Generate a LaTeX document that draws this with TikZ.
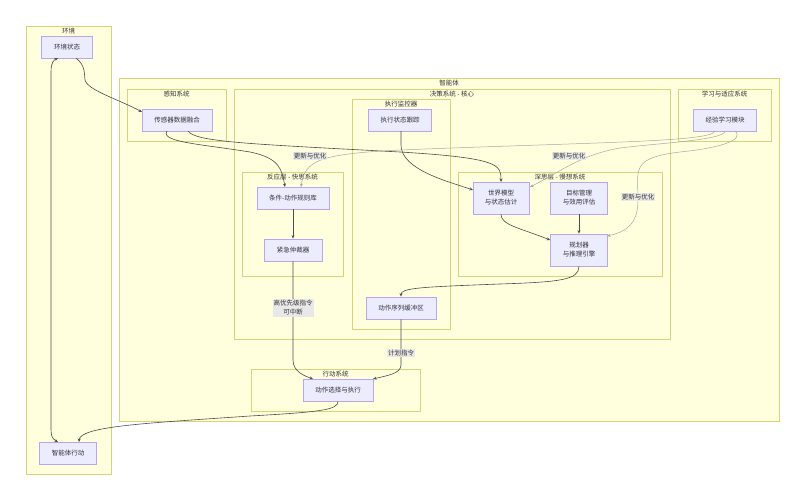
\documentclass[tikz,border=0pt]{standalone}
\usepackage{fontspec}
\setmainfont{Noto Sans CJK SC}
\usetikzlibrary{arrows.meta}
\definecolor{cfill}{HTML}{FFFFDE}
\definecolor{cline}{HTML}{D4D47A}
\definecolor{nfill}{HTML}{ECECFF}
\definecolor{nline}{HTML}{B9A6EE}
\definecolor{lblbg}{HTML}{E8E8E8}
\begin{document}
\begin{tikzpicture}[x=1pt,y=-1pt,
  font=\fontsize{6.5}{9}\selectfont,
  clus/.style={draw=cline,fill=cfill,line width=0.8pt},
  ctitle/.style={anchor=north,inner sep=1pt,text=black!80},
  nd/.style={draw=nline,fill=nfill,line width=0.8pt,minimum height=22pt,inner sep=2pt,align=center,text=black!80},
  e/.style={draw=black!70,line width=0.6pt,-{Stealth[length=3.5pt,width=3pt]}},
  el/.style={draw=black!35,line width=0.5pt,-{Stealth[length=3.5pt,width=3pt]}},
  lbl/.style={fill=lblbg,inner sep=1pt,align=center,text=black!80}]
\useasboundingbox (0,0) rectangle (805,500);
% clusters
\draw[clus] (26,26) rectangle (111,474); \node[ctitle] (t1) at (68.5,27) {环境};
\draw[clus] (119,78) rectangle (779,421); \node[ctitle] (t2) at (449,79) {智能体};
\draw[clus] (127,89) rectangle (226,141); \node[ctitle] (t3) at (176.5,90) {感知系统};
\draw[clus] (234,89) rectangle (670,339); \node[ctitle] (t4) at (452,90) {决策系统 - 核心};
\draw[clus] (352,99) rectangle (450,329); \node[ctitle] (t5) at (401,100) {执行监控器};
\draw[clus] (242,172) rectangle (343,276); \node[ctitle] (t6) at (292.5,173) {反应层 - 快思系统};
\draw[clus] (458,172) rectangle (662,276); \node[ctitle] (t7) at (560,173) {深思层 - 慢想系统};
\draw[clus] (678,89) rectangle (771,141); \node[ctitle] (t8) at (724.5,90) {学习与适应系统};
\draw[clus] (251,369) rectangle (420,411); \node[ctitle] (t9) at (335.5,370) {行动系统};
% nodes
\node[nd,minimum width=51pt] (env) at (67,47) {环境状态};
\node[nd,minimum width=70pt] (sen) at (177,120) {传感器数据融合};
\node[nd,minimum width=63pt] (trk) at (400,120) {执行状态跟踪};
\node[nd,minimum width=63pt] (lrn) at (725,120) {经验学习模块};
\node[nd,minimum width=72pt] (rule) at (293,198) {条件-动作规则库};
\node[nd,minimum width=58pt] (arb) at (293,250) {紧急仲裁器};
\node[nd,minimum width=56pt,minimum height=32pt] (wm) at (501,198) {世界模型\\与状态估计};
\node[nd,minimum width=57pt,minimum height=32pt] (goal) at (579,198) {目标管理\\与效用评估};
\node[nd,minimum width=57pt,minimum height=32pt] (plan) at (579,250) {规划器\\与推理引擎};
\node[nd,minimum width=70pt] (buf) at (401,308) {动作序列缓冲区};
\node[nd,minimum width=70pt] (sel) at (338,390) {动作选择与执行};
\node[nd,minimum width=57pt] (act) at (68,453) {智能体行动};
% edges
\coordinate (a1) at (76,58); \coordinate (a2) at (142,112);
\draw[e] (a1) .. controls (86,66) and (84,74) .. (85,80) .. controls (87,90) and (120,100) .. (a2);
\coordinate (b1) at (167,131); \coordinate (b2) at (285,187);
\draw[e] (b1) .. controls (160,142) and (200,144) .. (250,152) .. controls (280,158) and (282,170) .. (b2);
\coordinate (c1) at (188,131); \coordinate (c2) at (501,182);
\draw[e] (c1) .. controls (195,142) and (250,144) .. (400,152) .. controls (500,158) and (501,165) .. (c2);
\coordinate (d1) at (401,131); \coordinate (d2) at (473,190);
\draw[e] (d1) -- (401,145) .. controls (401,170) and (450,182) .. (d2);
\coordinate (f1) at (715,131); \coordinate (f2) at (301,187);
\draw[el] (f1) .. controls (712,142) and (600,142) .. (400,150) .. controls (320,154) and (305,160) .. (f2);
\coordinate (g1) at (725,131); \coordinate (g2) at (530,187);
\draw[el] (g1) .. controls (725,140) and (660,143) .. (620,148) .. controls (580,155) and (560,172) .. (g2);
\coordinate (h1) at (735,131); \coordinate (h2) at (607,236);
\draw[el] (h1) .. controls (745,140) and (720,148) .. (680,152) .. controls (630,158) and (638,170) .. (638,200) .. controls (638,225) and (625,232) .. (h2);
\node[lbl] (l1) at (310,156) {更新与优化};
\node[lbl] (l2) at (569,156) {更新与优化};
\node[lbl] (l3) at (638,197) {更新与优化};
\draw[e] (wm.south) .. controls (501,225) and (520,228) .. (plan.west|-0,240);
\draw[e] (goal) -- (plan);
\draw[e] (plan.south) .. controls (579,280) and (560,282) .. (500,284) .. controls (420,287) and (401,288) .. (buf.north);
\draw[e] (rule) -- (arb);
\coordinate (k2) at (313,379);
\draw[e] (arb.south) -- (293,360) .. controls (293,372) and (305,376) .. (k2);
\node[lbl] (l4) at (293,308) {高优先级指令\\可中断};
\coordinate (m2) at (373,379);
\draw[e] (buf.south) -- (401,365) .. controls (401,374) and (385,376) .. (m2);
\node[lbl] (l5) at (401,353) {计划指令};
\coordinate (n2) at (79,442);
\draw[e] (sel.south) .. controls (338,410) and (320,412) .. (250,416) .. controls (150,423) and (80,426) .. (n2);
\coordinate (p1) at (58,442); \coordinate (p2) at (58,58);
\draw[e,{Stealth[length=3.5pt,width=3pt]}-{Stealth[length=3.5pt,width=3pt]}] (p1) .. controls (51,438) and (51,435) .. (51,425) -- (51,72) .. controls (51,62) and (54,60) .. (p2);
\end{tikzpicture}
\end{document}
